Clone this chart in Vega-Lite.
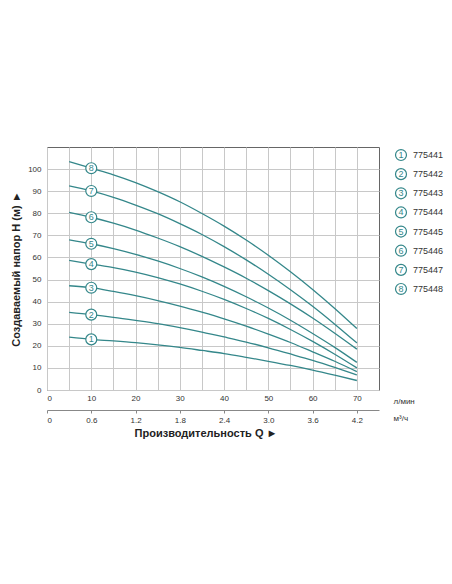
{
  "$schema": "https://vega.github.io/schema/vega-lite/v6.json",
  "background": "white",
  "padding": {"left": 10, "top": 146, "right": 0, "bottom": 0},
  "config": {
    "font": "Liberation Sans",
    "view": {"stroke": "#666666", "strokeWidth": 1}
  },
  "datasets": {
    "curves": [
      {"c": 1, "q": 5, "h": 23.9}, {"c": 1, "q": 10, "h": 22.9}, {"c": 1, "q": 15, "h": 22.2}, {"c": 1, "q": 20, "h": 21.4},
      {"c": 1, "q": 25, "h": 20.4}, {"c": 1, "q": 30, "h": 19.25}, {"c": 1, "q": 35, "h": 17.9}, {"c": 1, "q": 40, "h": 16.5},
      {"c": 1, "q": 45, "h": 14.8}, {"c": 1, "q": 50, "h": 13.0}, {"c": 1, "q": 55, "h": 11.1}, {"c": 1, "q": 60, "h": 9.0},
      {"c": 1, "q": 65, "h": 6.7}, {"c": 1, "q": 70, "h": 4.3},
      {"c": 2, "q": 5, "h": 35.1}, {"c": 2, "q": 10, "h": 34.1}, {"c": 2, "q": 15, "h": 32.9}, {"c": 2, "q": 20, "h": 31.5},
      {"c": 2, "q": 25, "h": 30.0}, {"c": 2, "q": 30, "h": 28.2}, {"c": 2, "q": 35, "h": 26.2}, {"c": 2, "q": 40, "h": 24.0},
      {"c": 2, "q": 45, "h": 21.7}, {"c": 2, "q": 50, "h": 19.1}, {"c": 2, "q": 55, "h": 16.3}, {"c": 2, "q": 60, "h": 13.4},
      {"c": 2, "q": 65, "h": 10.2}, {"c": 2, "q": 70, "h": 6.8},
      {"c": 3, "q": 5, "h": 47.2}, {"c": 3, "q": 10, "h": 46.3}, {"c": 3, "q": 15, "h": 44.6}, {"c": 3, "q": 20, "h": 42.7},
      {"c": 3, "q": 25, "h": 40.5}, {"c": 3, "q": 30, "h": 38.0}, {"c": 3, "q": 35, "h": 35.2}, {"c": 3, "q": 40, "h": 32.2},
      {"c": 3, "q": 45, "h": 28.9}, {"c": 3, "q": 50, "h": 25.3}, {"c": 3, "q": 55, "h": 21.5}, {"c": 3, "q": 60, "h": 17.3},
      {"c": 3, "q": 65, "h": 13.0}, {"c": 3, "q": 70, "h": 8.3},
      {"c": 4, "q": 5, "h": 58.7}, {"c": 4, "q": 10, "h": 57.0}, {"c": 4, "q": 15, "h": 55.4}, {"c": 4, "q": 20, "h": 53.4},
      {"c": 4, "q": 25, "h": 50.9}, {"c": 4, "q": 30, "h": 48.0}, {"c": 4, "q": 35, "h": 44.7}, {"c": 4, "q": 40, "h": 41.0},
      {"c": 4, "q": 45, "h": 36.9}, {"c": 4, "q": 50, "h": 32.4}, {"c": 4, "q": 55, "h": 27.4}, {"c": 4, "q": 60, "h": 22.0},
      {"c": 4, "q": 65, "h": 16.2}, {"c": 4, "q": 70, "h": 10.0},
      {"c": 5, "q": 5, "h": 68.0}, {"c": 5, "q": 10, "h": 66.2}, {"c": 5, "q": 15, "h": 64.0}, {"c": 5, "q": 20, "h": 61.4},
      {"c": 5, "q": 25, "h": 58.4}, {"c": 5, "q": 30, "h": 55.0}, {"c": 5, "q": 35, "h": 51.2}, {"c": 5, "q": 40, "h": 46.9},
      {"c": 5, "q": 45, "h": 42.2}, {"c": 5, "q": 50, "h": 37.1}, {"c": 5, "q": 55, "h": 31.6}, {"c": 5, "q": 60, "h": 25.6},
      {"c": 5, "q": 65, "h": 19.3}, {"c": 5, "q": 70, "h": 12.5},
      {"c": 6, "q": 5, "h": 80.4}, {"c": 6, "q": 10, "h": 78.2}, {"c": 6, "q": 15, "h": 75.5}, {"c": 6, "q": 20, "h": 72.4},
      {"c": 6, "q": 25, "h": 68.8}, {"c": 6, "q": 30, "h": 64.9}, {"c": 6, "q": 35, "h": 60.5}, {"c": 6, "q": 40, "h": 55.7},
      {"c": 6, "q": 45, "h": 50.6}, {"c": 6, "q": 50, "h": 45.0}, {"c": 6, "q": 55, "h": 39.0}, {"c": 6, "q": 60, "h": 32.6},
      {"c": 6, "q": 65, "h": 25.7}, {"c": 6, "q": 70, "h": 18.5},
      {"c": 7, "q": 5, "h": 92.4}, {"c": 7, "q": 10, "h": 90.1}, {"c": 7, "q": 15, "h": 87.2}, {"c": 7, "q": 20, "h": 83.7},
      {"c": 7, "q": 25, "h": 79.8}, {"c": 7, "q": 30, "h": 75.3}, {"c": 7, "q": 35, "h": 70.4}, {"c": 7, "q": 40, "h": 64.9},
      {"c": 7, "q": 45, "h": 58.9}, {"c": 7, "q": 50, "h": 52.4}, {"c": 7, "q": 55, "h": 45.4}, {"c": 7, "q": 60, "h": 37.9},
      {"c": 7, "q": 65, "h": 29.8}, {"c": 7, "q": 70, "h": 21.3},
      {"c": 8, "q": 5, "h": 103.4}, {"c": 8, "q": 10, "h": 100.4}, {"c": 8, "q": 15, "h": 97.4}, {"c": 8, "q": 20, "h": 93.9},
      {"c": 8, "q": 25, "h": 89.8}, {"c": 8, "q": 30, "h": 85.2}, {"c": 8, "q": 35, "h": 79.9}, {"c": 8, "q": 40, "h": 74.2},
      {"c": 8, "q": 45, "h": 67.9}, {"c": 8, "q": 50, "h": 61.0}, {"c": 8, "q": 55, "h": 53.5}, {"c": 8, "q": 60, "h": 45.5},
      {"c": 8, "q": 65, "h": 36.9}, {"c": 8, "q": 70, "h": 27.8}
    ],
    "markers": [
      {"c": 1, "q": 10, "h": 22.9}, {"c": 2, "q": 10, "h": 34.1}, {"c": 3, "q": 10, "h": 46.3}, {"c": 4, "q": 10, "h": 57.0},
      {"c": 5, "q": 10, "h": 66.2}, {"c": 6, "q": 10, "h": 78.2}, {"c": 7, "q": 10, "h": 90.1}, {"c": 8, "q": 10, "h": 100.4}
    ],
    "legend": [
      {"c": 1, "code": "775441"}, {"c": 2, "code": "775442"}, {"c": 3, "code": "775443"}, {"c": 4, "code": "775444"},
      {"c": 5, "code": "775445"}, {"c": 6, "code": "775446"}, {"c": 7, "code": "775447"}, {"c": 8, "code": "775448"}
    ]
  },
  "bounds": "flush",
  "spacing": 14,
  "hconcat": [
    {
      "width": 332,
      "height": 243,
      "title": {
        "text": "Производительность Q ►",
        "orient": "bottom",
        "anchor": "middle",
        "fontSize": 11,
        "fontWeight": "bold",
        "color": "#222222",
        "offset": 4,
        "dx": -7
      },
      "resolve": {"axis": {"x": "independent"}},
      "encoding": {
        "y": {
          "field": "h",
          "type": "quantitative",
          "scale": {"domain": [0, 110], "nice": false},
          "axis": {
            "values": [0, 10, 20, 30, 40, 50, 60, 70, 80, 90, 100],
            "labelOverlap": false,
            "labelSeparation": 0,
            "ticks": false,
            "domain": false,
            "gridColor": "#c8c8c8",
            "labelFontSize": 8,
            "labelColor": "#333333",
            "labelPadding": 6,
            "title": "Создаваемый напор H (м) ►",
            "titleFontSize": 11,
            "titleFontWeight": "bold",
            "titleColor": "#222222",
            "titlePadding": 6
          }
        }
      },
      "layer": [
        {
          "data": {"name": "curves"},
          "mark": {"type": "line", "interpolate": "monotone", "color": "#34878a", "strokeWidth": 1.3},
          "encoding": {
            "x": {
              "field": "q",
              "type": "quantitative",
              "scale": {"domain": [0, 75], "nice": false},
              "axis": {
                "values": [0, 5, 10, 15, 20, 25, 30, 35, 40, 45, 50, 55, 60, 65, 70],
                "labelExpr": "datum.value % 10 == 0 ? datum.label : ''",
                "labelOverlap": false,
                "ticks": false,
                "domain": false,
                "gridColor": "#c8c8c8",
                "labelFontSize": 8,
                "labelColor": "#333333",
                "labelPadding": 4,
                "title": "л/мин",
                "titleFontSize": 8,
                "titleFontWeight": "normal",
                "titleColor": "#333333",
                "titleX": 346,
                "titleY": 11,
                "titleAlign": "left",
                "titleBaseline": "middle"
              }
            },
            "detail": {"field": "c", "type": "nominal"}
          }
        },
        {
          "data": {"name": "markers"},
          "mark": {"type": "point", "shape": "circle", "filled": true, "fill": "white", "stroke": "#34878a", "strokeWidth": 1.2, "size": 120, "opacity": 1},
          "encoding": {
            "x": {"field": "q", "type": "quantitative", "axis": null}
          }
        },
        {
          "data": {"name": "markers"},
          "mark": {"type": "text", "fontSize": 9, "color": "#34878a", "baseline": "middle", "align": "center"},
          "encoding": {
            "x": {
              "field": "q",
              "type": "quantitative",
              "axis": {
                "orient": "bottom",
                "offset": 20,
                "values": [0, 10, 20, 30, 40, 50, 60, 70],
                "labelExpr": "datum.value == 0 ? '0' : format(datum.value * 0.06, '.1f')",
                "labelOverlap": false,
                "grid": false,
                "domain": true,
                "domainColor": "#888888",
                "ticks": true,
                "tickColor": "#888888",
                "tickSize": 3,
                "labelFontSize": 8,
                "labelColor": "#333333",
                "labelPadding": 3,
                "title": "м³/ч",
                "titleFontSize": 8,
                "titleFontWeight": "normal",
                "titleColor": "#333333",
                "titleX": 346,
                "titleY": 8,
                "titleAlign": "left",
                "titleBaseline": "middle"
              }
            },
            "text": {"field": "c", "type": "nominal"}
          }
        }
      ]
    },
    {
      "width": 16,
      "height": 150,
      "view": {"stroke": null},
      "data": {"name": "legend"},
      "encoding": {
        "y": {"field": "c", "type": "ordinal", "axis": null, "scale": {"type": "point", "padding": 0.42}}
      },
      "layer": [
        {
          "mark": {"type": "point", "shape": "circle", "filled": true, "fill": "white", "stroke": "#34878a", "strokeWidth": 1.2, "size": 120, "opacity": 1}
        },
        {
          "mark": {"type": "text", "fontSize": 9, "color": "#34878a", "baseline": "middle", "align": "center"},
          "encoding": {"text": {"field": "c", "type": "nominal"}}
        },
        {
          "mark": {"type": "text", "fontSize": 9, "color": "#333333", "baseline": "middle", "align": "left", "dx": 12},
          "encoding": {"text": {"field": "code", "type": "nominal"}}
        }
      ]
    }
  ]
}
